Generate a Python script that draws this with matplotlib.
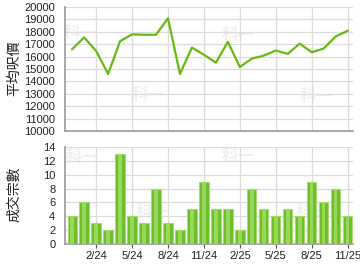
import matplotlib
matplotlib.use("Agg")
import matplotlib.pyplot as plt

# Monthly data, Dec 2023 .. Nov 2025
months = list(range(24))
avg_price = [16600, 17550, 16450, 14600, 17240, 17800, 17760, 17760, 19100,
             14600, 16730, 16150, 15510, 17190, 15160, 15840, 16080, 16490,
             16220, 17050, 16350, 16650, 17620, 18080]
deals = [4, 6, 3, 2, 13, 4, 3, 8, 3, 2, 5, 9, 5, 5, 2, 8, 5, 4, 5, 4, 9, 6, 8, 4]
tick_pos = [2, 5, 8, 11, 14, 17, 20, 23]
tick_labels = ["2/24", "5/24", "8/24", "11/24", "2/25", "5/25", "8/25", "11/25"]
price_ticks = list(range(10000, 20001, 1000))
deal_ticks = list(range(0, 15, 2))

LINE_GREEN = "#66bb11"
GRID = "#dcdcdc"
AXIS = "#999999"
CJK = ["Noto Sans CJK TC", "DejaVu Sans"]

plt.rcParams["font.family"] = ["Liberation Sans", "DejaVu Sans"]
plt.rcParams["font.size"] = 8

fig = plt.figure(figsize=(3.6, 2.7), dpi=100)
ax1 = fig.add_axes([65 / 360, 1 - 131 / 270, 288 / 360, 124 / 270])
ax2 = fig.add_axes([65 / 360, 1 - 244 / 270, 288 / 360, 97 / 270])


def style(ax):
    for s in ("top", "right"):
        ax.spines[s].set_visible(False)
    for s in ("left", "bottom"):
        ax.spines[s].set_color(AXIS)
        ax.spines[s].set_linewidth(1.2)
    ax.set_xlim(-0.6, 23.45)
    ax.set_xticks(tick_pos)
    ax.grid(True, color=GRID, linewidth=0.9)
    ax.set_axisbelow(True)
    ax.tick_params(axis="y", length=0, pad=7, colors="#222222", labelsize=8)


style(ax1)
ax1.plot(months, avg_price, color=LINE_GREEN, linewidth=1.6, zorder=3)
ax1.set_ylim(10000, 20000)
ax1.set_yticks(price_ticks)
ax1.tick_params(axis="x", length=0, labelbottom=False)

style(ax2)
ax2.bar(months, deals, width=0.78, color="#6cbf2a", edgecolor="#a6dc70",
        linewidth=0.8, zorder=3)
ax2.bar(months, deals, width=0.3, color="#9ad85a", linewidth=0, zorder=4)
ax2.set_ylim(0, 14)
ax2.set_yticks(deal_ticks)
ax2.set_xticklabels(tick_labels)
ax2.tick_params(axis="x", length=3, color="#555555", pad=2, colors="#222222",
                labelsize=8)

fig.text(14 / 360, 1 - 68 / 270, "平均呎價", rotation=90, ha="center",
         va="center", fontsize=10, family=CJK, color="#222222")
fig.text(14 / 360, 1 - 194 / 270, "成交宗數", rotation=90, ha="center",
         va="center", fontsize=10, family=CJK, color="#222222")

# faint watermarks, kept behind the data
for ax, spots in [(ax1, [(80, 33), (148, 95), (238, 35), (316, 96)]),
                  (ax2, [(82, 157), (152, 212), (238, 156), (312, 212)])]:
    for (x, y) in spots:
        ax.text(x / 360, 1 - y / 270, "科一", ha="center", va="center",
                fontsize=12, family=CJK, color="#f0f0f0", fontweight="bold",
                transform=fig.transFigure, zorder=0.1)

fig.savefig("out.png", dpi=100)
